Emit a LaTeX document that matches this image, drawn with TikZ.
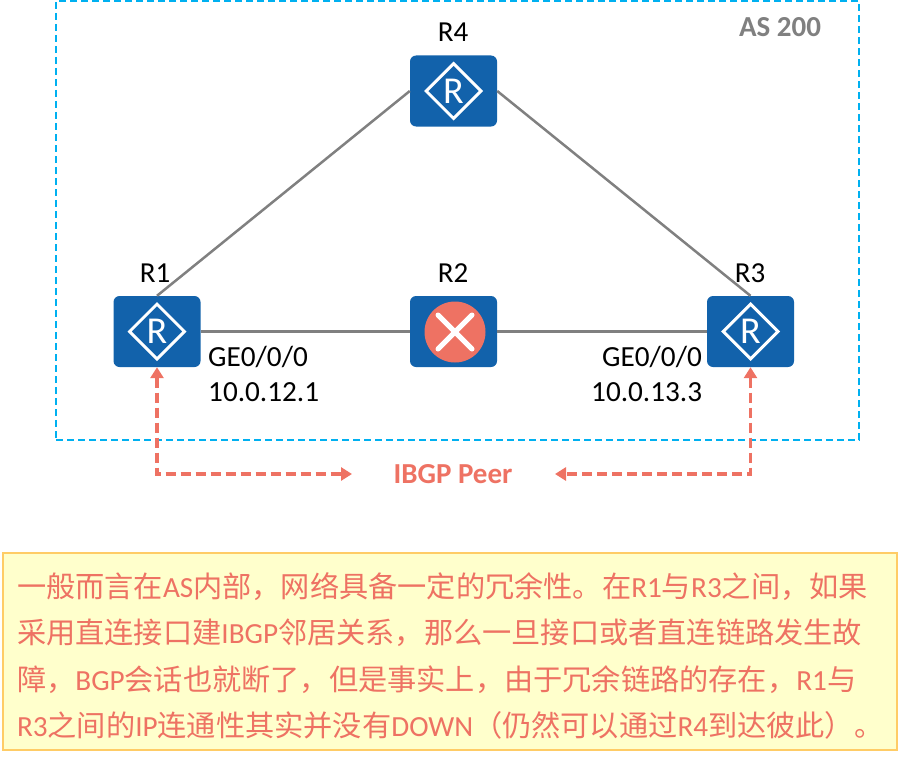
\documentclass[tikz,border=0pt]{standalone}
\usepackage{fontspec}
\setmainfont{Carlito}
\newfontfamily\cjk{Noto Sans CJK SC}
\usetikzlibrary{shapes.geometric}
\usetikzlibrary{arrows.meta}
\definecolor{routerblue}{HTML}{1262AB}
\definecolor{asblue}{HTML}{00B0F0}
\definecolor{peerred}{HTML}{EE7263}
\definecolor{linkgray}{HTML}{808080}
\definecolor{notefill}{HTML}{FFFFCC}
\definecolor{noteedge}{HTML}{FFCC66}
\newcommand{\zh}[1]{{\cjk #1}}
\tikzset{
    routerbox/.style={fill=routerblue,rounded corners=6pt,minimum width=87,minimum height=71,inner sep=0pt},
    routermark/.style={diamond,draw=white,line width=3pt,minimum width=56,minimum height=56,inner sep=0pt,
        text=white,font=\fontsize{38}{38}\selectfont},
    routername/.style={font=\fontsize{29}{29}\selectfont,inner sep=0pt},
    portlabel/.style={font=\fontsize{29.2}{29.2}\selectfont,inner sep=0pt,anchor=base west},
    link/.style={linkgray,line width=2.5pt},
    peerline/.style={peerred,line width=3.5pt,dash pattern=on 10pt off 5pt,>={Triangle[length=11pt,width=13pt]}},
}
\begin{document}
\begin{tikzpicture}[x=1pt,y=-1pt]
    \useasboundingbox (0,0) rectangle (901,760);
    \node[draw=asblue,line width=1.5pt,dash pattern=on 7pt off 4pt,minimum width=803,minimum height=439,inner sep=0pt] (as) at (457.5,220.5) {};
    \node[font=\bfseries\fontsize{29}{29}\selectfont,text=linkgray,inner sep=0pt] (asname) at (780,27) {AS 200};
    % routers
    \node[routerbox] (r1) at (157,331.5) {};
    \node[routerbox] (r2) at (453.5,331.5) {};
    \node[routerbox] (r3) at (750.5,331.5) {};
    \node[routerbox] (r4) at (453.5,91) {};
    \draw[link] (r1.north) -- (r4.west);
    \draw[link] (r4.east) -- (r3.north);
    \draw[link] (r1.east) -- (r2.west);
    \draw[link] (r2.east) -- (r3.west);
    \node[routermark] (m1) at (r1) {R};
    \node[routermark] (m3) at (r3) {R};
    \node[routermark] (m4) at (r4) {R};
    \node[circle,fill=peerred,minimum size=61,inner sep=0pt] (m2) at (455,332) {};
    \draw[white,line width=5pt,line cap=round] (m2.center) ++(-17,-17) -- ++(34,34);
    \draw[white,line width=5pt,line cap=round] (m2.center) ++(17,-17) -- ++(-34,34);
    \node[routername] (n1) at (155,273) {R1};
    \node[routername] (n2) at (453,273) {R2};
    \node[routername] (n3) at (750,273) {R3};
    \node[routername] (n4) at (453,32) {R4};
    \node[portlabel] (p1) at (208,366) {GE0/0/0};
    \node[portlabel] (a1) at (208,401) {10.0.12.1};
    \node[portlabel] (p3) at (602,366) {GE0/0/0};
    \node[portlabel] (a3) at (591,401) {10.0.13.3};
    % peering
    \node[font=\bfseries\fontsize{29}{29}\selectfont,text=peerred,inner sep=0pt] (peer) at (453,474) {IBGP Peer};
    \coordinate (pl) at (352,474);
    \coordinate (pr) at (555,474);
    \draw[peerline,<->] (r1.south) |- (pl);
    \draw[peerline,<->] (r3.south) |- (pr);
    % note
    \node[draw=noteedge,fill=notefill,line width=2pt,minimum width=894,minimum height=197,inner sep=0pt,
        text=peerred,text width=865pt,align=left,font=\fontsize{29.2}{46.5}\selectfont] (note) at (449.5,651.5)
        {\rule{0pt}{34pt}\zh{一般而言在}AS\zh{内部，网络具备一定的冗余性。在}R1\zh{与}R3\zh{之间，如果}\\
         \zh{采用直连接口建}IBGP\zh{邻居关系，那么一旦接口或者直连链路发生故}\\
         \zh{障，}BGP\zh{会话也就断了，但是事实上，由于冗余链路的存在，}R1\zh{与}\\
         R3\zh{之间的}IP\zh{连通性其实并没有}DOWN\zh{（仍然可以通过}R4\zh{到达彼此）。}};
\end{tikzpicture}
\end{document}
